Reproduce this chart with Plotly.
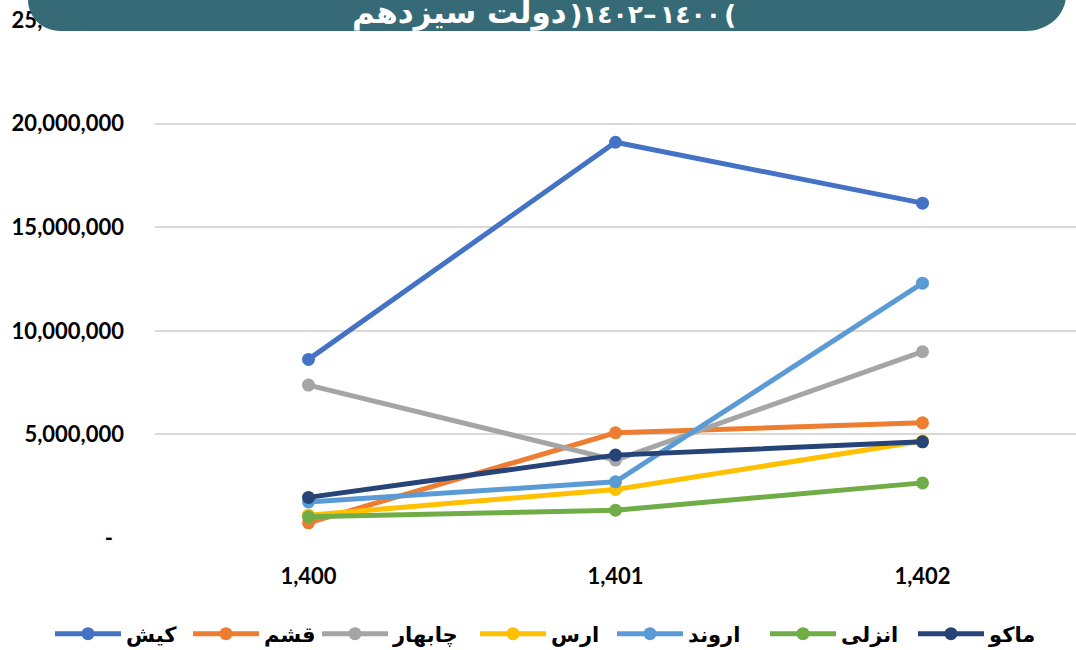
import plotly.graph_objects as go

years = ["1,400", "1,401", "1,402"]
series_names = ["کیش", "قشم", "چابهار", "ارس", "اروند", "انزلی", "ماکو"]
kish = [8620000, 19100000, 16160000]
qeshm = [730000, 5080000, 5560000]
chabahar = [7380000, 3760000, 8990000]
aras = [1100000, 2340000, 4680000]
arvand = [1740000, 2710000, 12300000]
anzali = [1020000, 1340000, 2660000]
maku = [1960000, 4000000, 4640000]
colors = ["#4472C4", "#ED7D31", "#A5A5A5", "#FFC000", "#5B9BD5", "#70AD47", "#264478"]
y_tickvals = [0, 5000000, 10000000, 15000000, 20000000, 25000000]
y_ticktext = ["-\u2002", "5,000,000", "10,000,000", "15,000,000", "20,000,000", "25,000,000"]
title_words = "دولت سیزدهم"
# pieces of the bracketed year range, in visual left-to-right order
title_year_parts = [")", "١٤٠٢", "–", "١٤٠٠", "("]

values = [kish, qeshm, chabahar, aras, arvand, anzali, maku]

# plot area in pixels
L, R, T, B = 155, 1076, 20, 538
W, H = R - L, B - T

def px(x):
    return (x - L) / W

def py(y):
    return (B - y) / H

# left edge (px) of each legend entry, to spread them like the original
legend_lefts = [50, 188, 317, 475, 612, 765, 913]

fig = go.Figure()
legend_layouts = {}
for i, (name, vals, col) in enumerate(zip(series_names, values, colors)):
    lid = "legend" if i == 0 else f"legend{i + 1}"
    fig.add_trace(go.Scatter(
        x=years, y=vals, name=name, mode="lines+markers",
        line=dict(color=col, width=5),
        marker=dict(color=col, size=13),
        legend=lid,
    ))
    legend_layouts[lid] = dict(
        orientation="h", x=px(legend_lefts[i]), y=py(634),
        xanchor="left", yanchor="middle", bgcolor="rgba(0,0,0,0)",
        font=dict(family="DejaVu Sans", size=21, color="black", weight="bold"),
        itemwidth=66,
    )

pts = [
    ("M", [(28, -80)]),
    ("L", [(28, 0)]),
    ("C", [(28, 17.1), (42.3, 31), (60, 31)]),
    ("L", [(1026, 31)]),
    ("C", [(1048.1, 31), (1066, 14.9), (1066, -5)]),
    ("L", [(1066, -80)]),
]
path = ""
for cmd, plist in pts:
    path += cmd + " " + " ".join(f"{px(a):.5f},{py(b):.5f}" for a, b in plist) + " "
path += "Z"

fig.add_shape(type="path", path=path, xref="paper", yref="paper",
              fillcolor="#366A77", line=dict(width=0), layer="above")

fig.add_annotation(
    text=title_words, xref="paper", yref="paper",
    x=px(459), y=py(13), xanchor="center", yanchor="middle",
    showarrow=False,
    font=dict(family="DejaVu Sans", size=31, color="white", weight="bold"),
)
part_centers = [576, 612, 650, 690, 730]
part_sizes = [27, 25, 27, 25, 27]
for part, cx, sz in zip(title_year_parts, part_centers, part_sizes):
    fig.add_annotation(
        text=part, xref="paper", yref="paper",
        x=px(cx), y=py(14), xanchor="center", yanchor="middle",
        showarrow=False,
        font=dict(family="DejaVu Sans", size=sz, color="white", weight="bold"),
    )

fig.update_layout(
    width=1076, height=650, autosize=False,
    margin=dict(l=L, r=1076 - R, t=T, b=650 - B, autoexpand=False),
    paper_bgcolor="white", plot_bgcolor="white",
    showlegend=True,
    xaxis=dict(
        type="category", range=[-0.5, 2.5], showgrid=False, showline=False,
        ticks="", tickfont=dict(family="Lato", size=22, color="black", weight="bold"),
        ticklabelstandoff=23,
    ),
    yaxis=dict(
        range=[0, 25000000], tickvals=y_tickvals, ticktext=y_ticktext,
        showgrid=True, gridcolor="#D9D9D9", gridwidth=1.5, zeroline=False,
        showline=False, ticks="",
        tickfont=dict(family="Lato", size=22, color="black", weight="bold"),
        ticklabelstandoff=30,
    ),
    **legend_layouts,
)

fig.write_html("out.html", config={"displayModeBar": False},
               post_script="document.body.style.margin='0';")
